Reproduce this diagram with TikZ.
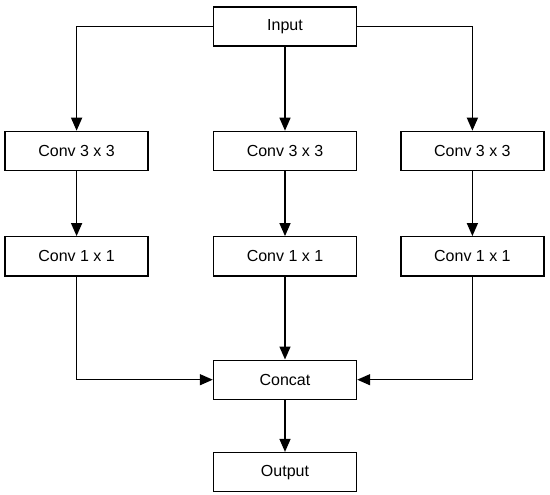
\documentclass[tikz,border=0pt]{standalone}
\usepackage{fontspec}
\setmainfont{Liberation Sans}
\usetikzlibrary{arrows.meta,positioning}

\begin{document}
\begin{tikzpicture}[
  box/.style={draw,line width=1.4pt,minimum width=143pt,minimum height=39pt,inner sep=0pt,font=\fontsize{16}{19}\selectfont},
  arr/.style={-{Triangle[width=11pt,length=13pt]},line width=1.4pt}
]
  \useasboundingbox (0,0) rectangle (550pt,-495pt);

  \node[box] (input) at (285pt,-26.5pt) {Input};
  \node[box, below=84pt of input] (c3m) {Conv 3 x 3};
  \node[box, left=64pt of c3m] (c3l) {Conv 3 x 3};
  \node[box, right=43pt of c3m] (c3r) {Conv 3 x 3};
  \node[box, below=65pt of c3m] (c1m) {Conv 1 x 1};
  \node[box, below=65pt of c3l] (c1l) {Conv 1 x 1};
  \node[box, below=65pt of c3r] (c1r) {Conv 1 x 1};
  \node[box, below=83pt of c1m] (concat) {Concat};
  \node[box, below=52pt of concat] (output) {Output};

  \draw[arr] (input.west) -| (c3l.north);
  \draw[arr] (input) -- (c3m);
  \draw[arr] (input.east) -| (c3r.north);
  \draw[arr] (c3l) -- (c1l);
  \draw[arr] (c3m) -- (c1m);
  \draw[arr] (c3r) -- (c1r);
  \draw[arr] (c1l.south) |- (concat.west);
  \draw[arr] (c1m) -- (concat);
  \draw[arr] (c1r.south) |- (concat.east);
  \draw[arr] (concat) -- (output);
\end{tikzpicture}
\end{document}
